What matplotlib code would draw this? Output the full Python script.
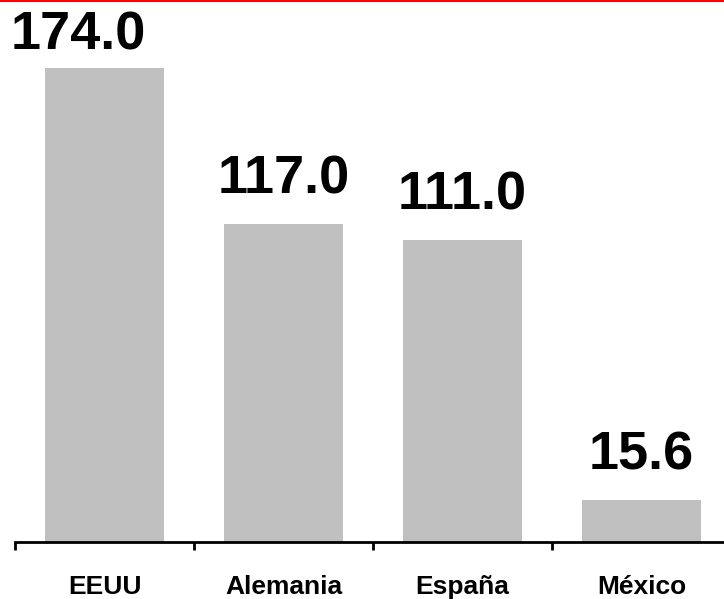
import matplotlib
matplotlib.use('Agg')
import matplotlib.pyplot as plt
import numpy as np
from matplotlib.lines import Line2D

categories = ['EEUU', 'Alemania', 'España', 'México']
values = [174.0, 117.0, 111.0, 15.6]
value_labels = ['174.0', '117.0', '111.0', '15.6']

plt.rcParams['font.family'] = ['Liberation Sans', 'DejaVu Sans']

fig = plt.figure(figsize=(7.24, 5.99), dpi=100)
# axes run a little past the right edge, like the original
ax = fig.add_axes([15 / 724, 57 / 599, 716 / 724, 490 / 599])

x = np.arange(len(categories))
ax.bar(x, values, width=0.67, color='#C0C0C0')

ax.set_xlim(-0.5, 3.5)
ax.set_ylim(0, 180)

for side in ['top', 'right', 'left']:
    ax.spines[side].set_visible(False)
ax.spines['bottom'].set_linewidth(2)
ax.set_yticks([])

# ticks sit between categories, labels under bar centres
ax.set_xticks(np.arange(-0.5, 4.0, 1.0))
ax.set_xticklabels([])
ax.tick_params(axis='x', direction='out', length=5.5, width=2)
for i, c in enumerate(categories):
    ax.annotate(c, (i, 0), xytext=(0, -24), textcoords='offset points',
                ha='center', va='top', fontsize=19, fontweight='bold')

for i, (v, s) in enumerate(zip(values, value_labels)):
    off = 14
    dx = 0
    if i == 0:
        # tallest label is squeezed under the top border
        off = 6
        dx = -19
    ax.annotate(s, (i, v), xytext=(dx, off), textcoords='offset points',
                ha='center', va='bottom', fontsize=39, fontweight='bold')

fig.add_artist(Line2D([0, 1], [1 - 0.8 / 599, 1 - 0.8 / 599],
                      color='red', linewidth=1.5, transform=fig.transFigure))

fig.savefig('out.png', dpi=100)
